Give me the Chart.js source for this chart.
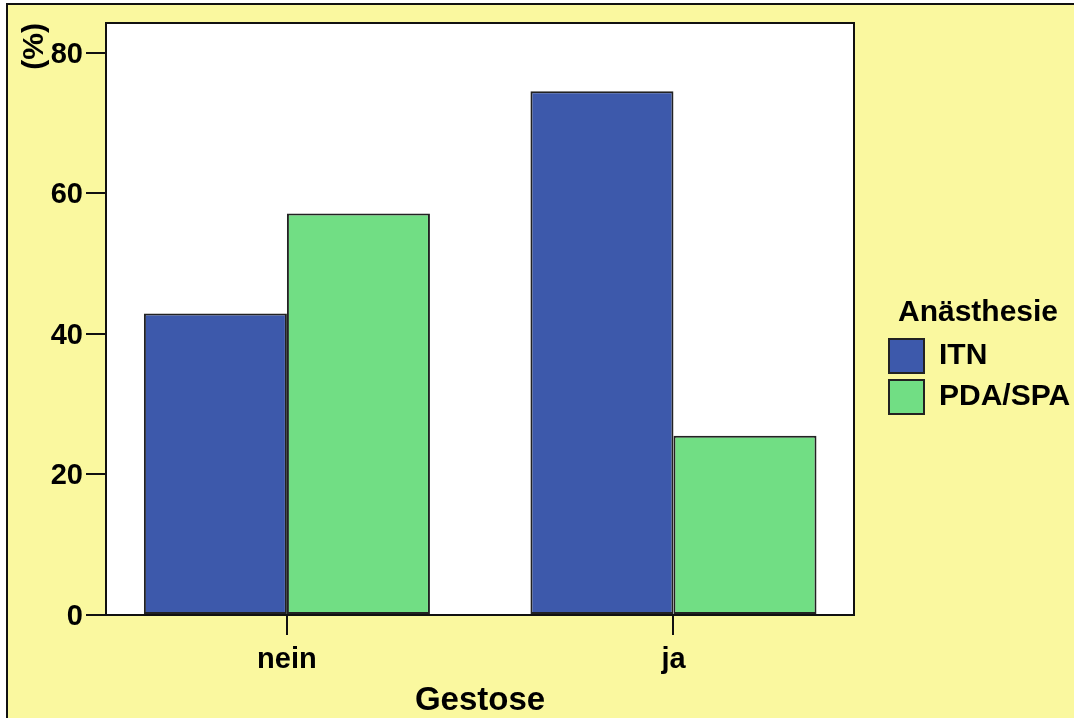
<!DOCTYPE html>
<html>
<head>
<meta charset="utf-8">
<script src="https://cdn.jsdelivr.net/npm/chart.js@4"></script>
<style>
  html, body { margin: 0; padding: 0; background: #fff; overflow: hidden; }
  .wrap { position: relative; width: 1074px; height: 718px; }
  .frame { position: absolute; left: 6px; top: 3px; width: 1100px; height: 800px;
           background: #FAF89F; border: 2px solid #111; }
  canvas { position: absolute; left: 0; top: 0; }
</style>
</head>
<body>
<div class="wrap">
  <div class="frame"></div>
  <canvas id="chart" width="1074" height="718"></canvas>
</div>
<script>
// ===== Data =====
const categories = ['nein', 'ja'];
const seriesNames = ['ITN', 'PDA/SPA'];
const itnValues = [42.9, 74.5];
const pdaValues = [57.1, 25.5];
const yTicks = [0, 20, 40, 60, 80];

const FONT = "'Liberation Sans', Arial, sans-serif";
const BLUE = '#3D59AB';
const GREEN = '#71DE84';

// white plot area + black frame, like the SPSS output
const plotFrame = {
  id: 'plotFrame',
  beforeDatasetsDraw(chart) {
    const { ctx, chartArea: a } = chart;
    ctx.save();
    ctx.fillStyle = '#fff';
    ctx.fillRect(a.left, a.top, a.right - a.left, a.bottom - a.top);
    ctx.restore();
  },
  afterDatasetsDraw(chart) {
    const { ctx, chartArea: a } = chart;
    ctx.save();
    ctx.strokeStyle = '#111';
    ctx.lineWidth = 2;
    ctx.strokeRect(a.left, a.top, a.right - a.left, a.bottom - a.top);
    ctx.restore();
  }
};

const toPoints = vals => vals.map((v, i) => ({ x: i, y: v }));

new Chart(document.getElementById('chart'), {
  type: 'bar',
  data: {
    datasets: [
      { label: seriesNames[0], data: toPoints(itnValues), backgroundColor: BLUE },
      { label: seriesNames[1], data: toPoints(pdaValues), backgroundColor: GREEN }
    ]
  },
  options: {
    responsive: false,
    animation: false,
    layout: { padding: { left: 0, top: 23, right: 0, bottom: 0 } },
    datasets: {
      bar: {
        borderColor: '#222', borderWidth: 2, borderSkipped: false,
        categoryPercentage: 0.74, barPercentage: 1
      }
    },
    plugins: {
      tooltip: { enabled: false },
      legend: {
        position: 'right', align: 'start', maxWidth: 192,
        title: {
          display: true, text: 'Anästhesie', color: '#000',
          font: { family: FONT, size: 30, weight: 'bold', lineHeight: 1.2 },
          padding: { top: 275, bottom: -2 }
        },
        labels: {
          color: '#000', boxWidth: 35, boxHeight: 34, padding: 7,
          font: { family: FONT, size: 30, weight: 'bold' }
        }
      }
    },
    scales: {
      x: {
        type: 'linear', min: -0.468, max: 1.467, offset: false,
        afterBuildTicks: s => { s.ticks = categories.map((c, i) => ({ value: i })); },
        afterFit: s => { s.height = 103; },
        border: { display: false },
        grid: { offset: false, drawOnChartArea: false, tickLength: 20, tickColor: '#111', lineWidth: 2 },
        ticks: {
          color: '#000', padding: 8, maxRotation: 0,
          font: { family: FONT, size: 29, weight: 'bold' },
          callback: v => categories[v]
        },
        title: {
          display: true, text: 'Gestose', color: '#000',
          font: { family: FONT, size: 33, weight: 'bold', lineHeight: 1 },
          padding: { top: 0, bottom: 1 }
        }
      },
      y: {
        min: 0, max: 84.2,
        afterBuildTicks: s => { s.ticks = yTicks.map(v => ({ value: v })); },
        afterFit: s => { s.width = 106; },
        border: { display: false },
        grid: { drawOnChartArea: false, tickLength: 20, tickColor: '#111', lineWidth: 2 },
        ticks: {
          color: '#000', padding: 3, labelOffset: 2,
          font: { family: FONT, size: 29, weight: 'bold' }
        },
        title: {
          display: true, text: '(%)', align: 'end', color: '#000',
          font: { family: FONT, size: 30, weight: 'bold', lineHeight: 1 },
          padding: { top: 20, bottom: 0 }
        }
      },
      // empty spacer between plot and legend
      gap: {
        position: 'right', display: true,
        afterFit: s => { s.width = 28; },
        border: { display: false },
        grid: { display: false },
        ticks: { display: false }
      }
    }
  },
  plugins: [plotFrame]
});
</script>
</body>
</html>
